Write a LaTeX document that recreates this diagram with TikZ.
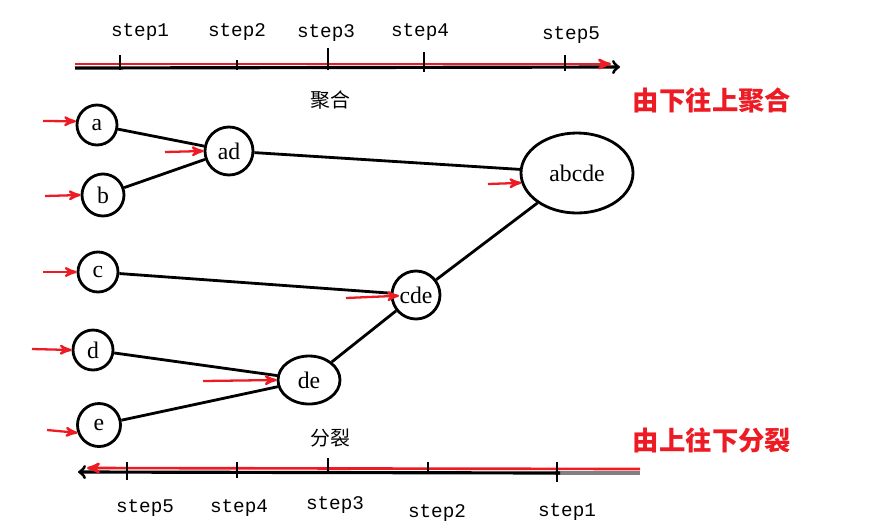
\documentclass[tikz,border=0pt]{standalone}
\usepackage{fontspec}
\setmainfont{Liberation Serif}
\newfontfamily\cjk{Noto Sans CJK SC}
\newfontfamily\stepfont{Liberation Mono}
\usepackage{tikz}
\usetikzlibrary{arrows}
\usetikzlibrary{shapes.geometric}
\definecolor{arrowred}{RGB}{237,28,36}

\begin{document}
\begin{tikzpicture}
\tikzstyle{vertex} = [draw,circle,line width=1.6pt,inner sep=0mm,font=\fontsize{13.5}{15}\selectfont]
\tikzstyle{oval} = [draw,ellipse,line width=1.6pt,inner sep=0mm,font=\fontsize{13.5}{15}\selectfont]
\tikzstyle{edge} = [line width=1.6pt]
\tikzstyle{feed} = [color = arrowred,line width=1.3pt,-stealth']
\tikzstyle{axis} = [line width=1.8pt,->,>=to]
\tikzstyle{redaxis} = [color = arrowred,line width=1.5pt,-stealth']
\tikzstyle{tick} = [line width=1.5pt]
\tikzstyle{steplabel} = [font=\stepfont\fontsize{11}{13}\selectfont]
\tikzstyle{title} = [font=\cjk\fontsize{11.3}{13}\selectfont]
\tikzstyle{note} = [color = arrowred,font=\cjk\bfseries\fontsize{15}{18}\selectfont]

\begin{scope}[x=0.2mm,y=-0.2mm]
\useasboundingbox (0,0) rectangle (872,527);

\draw[axis] (75,68) -- (620,67);
\draw[redaxis] (75,64) -- (611,64);
\draw[tick] (120,55) -- (120,70);
\draw[tick] (237,60) -- (237,70);
\draw[tick] (328,48) -- (328,70);
\draw[tick] (424,52) -- (424,72);
\draw[tick] (565,55) -- (565,71);
\draw(140,32) node[steplabel] (up1) {step1};
\draw(237,32) node[steplabel] (up2) {step2};
\draw(326,33) node[steplabel] (up3) {step3};
\draw(420,32) node[steplabel] (up4) {step4};
\draw(571,35) node[steplabel] (up5) {step5};
\draw(330,100) node[title] (merge) {聚合};
\draw(712,100) node[note] (mergenote) {由下往上聚合};

\draw(97,125) node[vertex,minimum size=8mm]     (a) {a};
\draw(103,195) node[vertex,minimum size=8.4mm]  (b) {b};
\draw(229,151) node[vertex,minimum size=9.6mm]  (ad) {ad};
\draw(577,173) node[oval,minimum width=22.4mm,minimum height=16mm] (abcde) {abcde};
\draw(98,272) node[vertex,minimum size=8mm]     (c) {c};
\draw(416,295) node[vertex,minimum size=9.6mm]  (cde) {cde};
\draw(93,350) node[vertex,minimum size=8mm]     (d) {d};
\draw(99,425) node[vertex,minimum size=8.6mm]   (e) {e};
\draw(309,380) node[oval,minimum width=12.4mm,minimum height=9.6mm] (de) {de};

\draw[edge] (a) -- (ad);
\draw[edge] (b) -- (ad);
\draw[edge] (ad) -- (abcde);
\draw[edge] (c) -- (cde);
\draw[edge] (d) -- (de);
\draw[edge] (e) -- (de);
\draw[edge] (de) -- (cde);
\draw[edge] (cde) -- (abcde);

\coordinate (ina) at (43,121);
\coordinate (inb) at (45,196);
\coordinate (inad) at (165,152);
\coordinate (inabcde) at (488,184);
\coordinate (inc) at (43,272);
\coordinate (incde) at (346,298);
\coordinate (ind) at (32,349);
\coordinate (inde) at (203,381);
\coordinate (ine) at (47,430);

\draw[feed] (ina) -- (a.170);
\draw[feed] (inb) -- (b.west);
\draw[feed] (inad) -- (ad.west);
\draw[feed] (inabcde) -- (abcde.190);
\draw[feed] (inc) -- (c.west);
\draw[feed,shorten >=3.4mm] (incde) -- (cde.center);
\draw[feed] (ind) -- (d.west);
\draw[feed] (inde) -- (de.west);
\draw[feed] (ine) -- (e.200);

\draw(330,438) node[title] (split) {分裂};
\draw(712,440) node[note] (splitnote) {由上往下分裂};
\draw[line width=1.8pt,color=gray] (640,473) -- (555,473);
\draw[axis] (560,473) -- (78,472);
\draw[redaxis] (640,469) -- (87,468);
\draw[tick] (127,462) -- (127,480);
\draw[tick] (237,462) -- (237,478);
\draw[tick] (328,458) -- (328,472);
\draw[tick] (428,462) -- (428,474);
\draw[tick] (557,462) -- (557,482);
\draw(145,508) node[steplabel] (down5) {step5};
\draw(239,508) node[steplabel] (down4) {step4};
\draw(335,505) node[steplabel] (down3) {step3};
\draw(437,513) node[steplabel] (down2) {step2};
\draw(567,512) node[steplabel] (down1) {step1};

\end{scope}
\end{tikzpicture}
\end{document}
